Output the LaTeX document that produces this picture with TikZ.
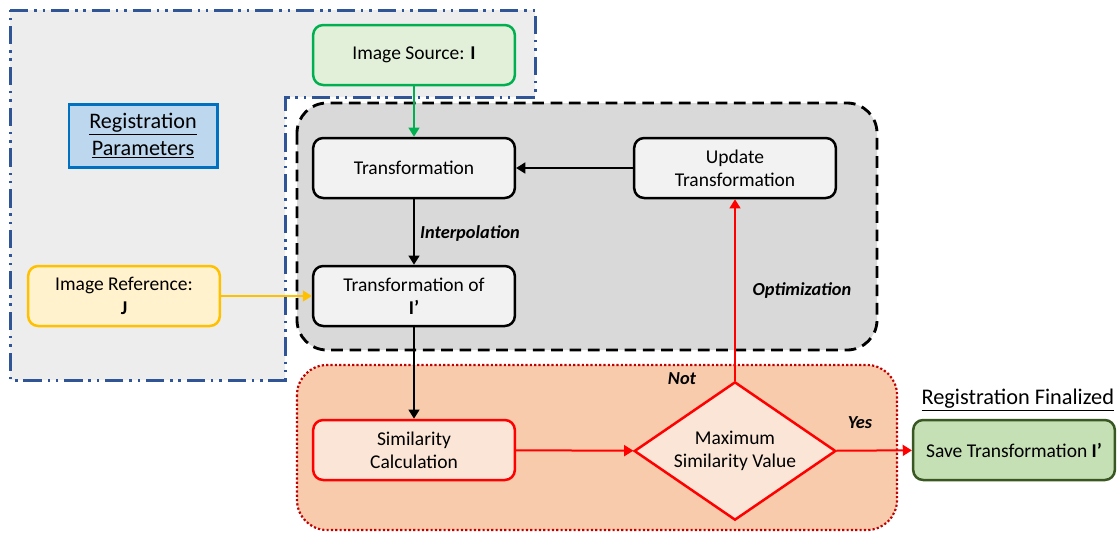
\documentclass[tikz,border=0pt]{standalone}
\usepackage{fontspec}
\setmainfont{Carlito}
\usetikzlibrary{positioning, shapes.geometric, arrows.meta}

\definecolor{regblue}{HTML}{2F5597}
\definecolor{regfill}{HTML}{EDEDED}
\definecolor{optfill}{HTML}{D9D9D9}
\definecolor{simfill}{HTML}{F8CBAD}
\definecolor{simline}{HTML}{C00000}
\definecolor{srcline}{HTML}{00B050}
\definecolor{srcfill}{HTML}{E2F0D9}
\definecolor{refline}{HTML}{FFC000}
\definecolor{reffill}{HTML}{FFF2CC}
\definecolor{parline}{HTML}{0070C0}
\definecolor{parfill}{HTML}{BDD7EE}
\definecolor{saveline}{HTML}{385723}
\definecolor{savefill}{HTML}{C5E0B4}
\definecolor{stepfill}{HTML}{F2F2F2}
\definecolor{calcfill}{HTML}{FBE5D6}

\begin{document}
\begin{tikzpicture}[x=0.6pt, y=-0.6pt,
          font=\fontsize{11.7}{14}\selectfont,
          >={Triangle[width=6.5pt, length=5.5pt]},
          box/.style = {draw, rounded corners=6pt, line width=1.5pt,
                        minimum width=121pt, minimum height=36pt,
                        align=center, fill=stepfill},
          tag/.style = {font=\fontsize{11}{13}\selectfont\bfseries\itshape},
          flow/.style = {->, line width=1.2pt} ]
\useasboundingbox (0,0) rectangle (1119,533);

% regions
\draw[regblue, fill=regfill, line width=1.8pt,
      dash pattern=on 11pt off 3.5pt on 1.5pt off 3.5pt on 1.5pt off 3.5pt]
     (10,10) -- (535,10) -- (535,97) -- (285,97) -- (285,380) -- (10,380) -- cycle;
\draw[fill=optfill, line width=1.7pt, dash pattern=on 7pt off 4pt, rounded corners=18pt]
     (297,103) rectangle (877,350);
\draw[simline, fill=simfill, line width=1.3pt, dash pattern=on 1.3pt off 1.3pt, rounded corners=18pt]
     (297,365) rectangle (897,530);

% steps
\node (src)  [box, draw=srcline, fill=srcfill] at (414,55)  {Image Source: \textbf{I}};
\node (regp) [draw=parline, fill=parfill, line width=1.6pt, align=center,
              font=\fontsize{13.3}{16}\selectfont,
              minimum width=89pt, minimum height=38pt] at (143,136)
             {\underline{Registration}\\\underline{Parameters}};
\node (trf)  [box] at (414,168) {Transformation};
\node (upd)  [box] at (735,168) {Update\\Transformation};
\node (trfI) [box] at (414,296) {Transformation of\\\textbf{I’}};
\node (ref)  [box, draw=refline, fill=reffill, minimum width=115pt] at (124,296)
             {Image Reference:\\\textbf{J}};
\node (sim)  [box, draw=red, fill=calcfill] at (414,450) {Similarity\\Calculation};
\node (max)  [diamond, draw=red, fill=calcfill, line width=1.5pt, inner sep=0pt,
              aspect=1.46, minimum width=121pt, minimum height=83pt, align=center]
             at (735,451) {Maximum\\Similarity Value};
\node (save) [box, draw=saveline, fill=savefill] at (1014,450) {Save Transformation \textbf{I’}};
\node (fin)  [font=\fontsize{13.4}{16}\selectfont, above=1pt of save.north east, anchor=south east,
              inner xsep=1pt] {\underline{Registration Finalized}};

% labels
\node (interp) [tag] at (470,233) {Interpolation};
\node (optim)  [tag] at (802,290) {Optimization};
\node (no)     [tag] at (682,379) {Not};
\node (yes)    [tag] at (860,423) {Yes};

% connectors
\draw[flow, srcline] (src) -- (trf);
\draw[flow] (upd) -- (trf);
\draw[flow] (trf) -- (trfI);
\draw[flow, refline] (ref) -- (trfI);
\draw[flow] (trfI) -- (sim);
\draw[flow, red] (sim) -- (max);
\draw[flow, red] (max) -- (upd);
\draw[flow, red] (max) -- (save);
\end{tikzpicture}
\end{document}
